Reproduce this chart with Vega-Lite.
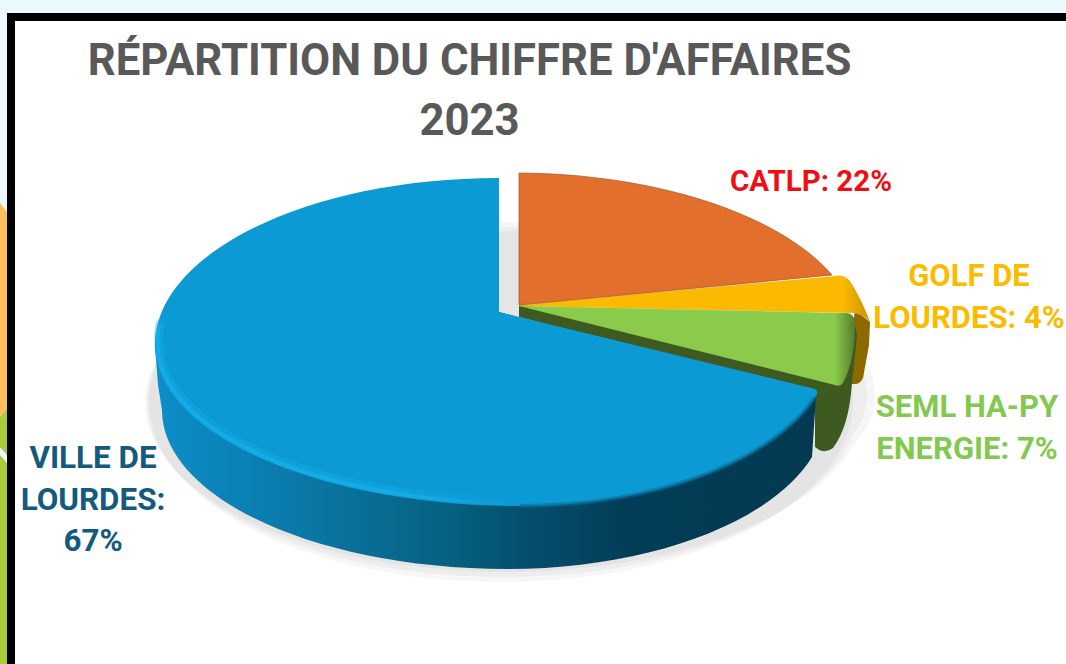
{
"$schema":"https://vega.github.io/schema/vega-lite/v6.json",
"description":"3D-style pie. Share values are in the rows; slice anchors and label positions come from scales on share. The perspective slice outlines are drawn as custom point shapes traced from the reference, since arc marks cannot be elliptical.",
"width":1066,"height":664,"padding":0,"autosize":{"type":"none"},
"background":"#ecf9ff",
"config":{"view":{"stroke":null}},
"title":{"text":["RÉPARTITION DU CHIFFRE D'AFFAIRES","2023"],"font":"Roboto","fontWeight":700,"fontSize":43.7,"color":"#595959","anchor":"middle","frame":"group","lineHeight":60,"dx":-63.5,"dy":179,"offset":0,"baseline":"alphabetic"},
"datasets":{"slices":[
{"segment":"GOLF DE LOURDES","share":4,"label":"GOLF DE\nLOURDES: 4%"},
{"segment":"SEML HA-PY ENERGIE","share":7,"label":"SEML HA-PY\nENERGIE: 7%"},
{"segment":"CATLP","share":22,"label":"CATLP: 22%"},
{"segment":"VILLE DE LOURDES","share":67,"label":"VILLE DE\nLOURDES:\n67%"}
]},
"data":{"name":"slices"},
"resolve":{"scale":{"x":"independent","y":"independent"}},
"layer":[
{"transform":[{"filter":"datum.share==67"}],
 "encoding":{"x":{"value":0},"y":{"value":0}},
 "layer":[
 {"mark":{"type":"point","filled":true,"size":4,"opacity":1,"fill":"#000000","shape":"M7,13 L1066,13 L1066,664 L7,664 Z"}},
 {"mark":{"type":"point","filled":true,"size":4,"opacity":1,"fill":"#ffffff","shape":"M15,21 L1066,21 L1066,664 L15,664 Z"}},
 {"mark":{"type":"point","filled":true,"size":4,"opacity":1,"fill":"#ffbe5c","shape":"M0,203 L7,212 L7,409 L0,417 Z"}},
 {"mark":{"type":"point","filled":true,"size":4,"opacity":1,"fill":"#a8cb38","shape":"M0,417 L7,409 L7,455 L0,447 Z M0,455 L7,463 L7,664 L0,664 Z"}}
 ]},
{"encoding":{
  "x":{"field":"share","type":"quantitative","axis":null,"scale":{"domain":[4,7,22,67],"range":[519,519,519,499]}},
  "y":{"field":"share","type":"quantitative","axis":null,"scale":{"domain":[4,7,22,67],"range":[305,305,305,312]}}},
 "layer":[
 {"transform":[{"filter":"datum.share==67"}],"mark":{"type":"point","filled":true,"size":4,"opacity":0.035,"fill":"#000000","shape":"M-354,90 A360 170 0 1 1 366,90 A360 170 0 1 1 -354,90 Z M226,83 A75 70 0 1 1 376,83 A75 70 0 1 1 226,83 Z"}},
 {"transform":[{"filter":"datum.share==67"}],"mark":{"type":"point","filled":true,"size":4,"opacity":0.035,"fill":"#000000","shape":"M-352,90 A356 175 0 1 1 360,90 A356 175 0 1 1 -352,90 Z M226,83 A71 66 0 1 1 368,83 A71 66 0 1 1 226,83 Z"}},
 {"transform":[{"filter":"datum.share==67"}],"mark":{"type":"point","filled":true,"size":4,"opacity":0.035,"fill":"#000000","shape":"M-350,90 A352 180 0 1 1 354,90 A352 180 0 1 1 -350,90 Z"}},
 {"transform":[{"filter":"datum.share==67"}],"mark":{"type":"point","filled":true,"size":4,"opacity":1,"fill":"#e5e5e5","shape":"M0,-80 L20,-82 L20,5 L0,0 Z"}},
 {"transform":[{"filter":"datum.share==4"}],"mark":{"type":"point","filled":true,"size":4,"opacity":1,"fill":"#8b6a00","shape":"M336,5 L351,17 L350,40 L344,73 Q341,79 336,79 L326,79 Z"}},
 {"transform":[{"filter":"datum.share==4"}],"mark":{"type":"point","filled":true,"size":4,"opacity":1,"fill":{"gradient":"linear","x1":0,"x2":1,"y1":0,"y2":0,"stops":[{"offset":0,"color":"#fbb900"},{"offset":0.92,"color":"#fbb900"},{"offset":1,"color":"#c99400"}]},"shape":"M0,0 L316,-29 Q324,-31 331,-24 Q343,-5 351,17 Q345,10 335,8 L0,1 Z"}},
 {"transform":[{"filter":"datum.share==7"}],"mark":{"type":"point","filled":true,"size":4,"opacity":1,"fill":"#3e5a20","shape":"M0,1 L0,12 L296,90 L296,142 Q305,150 314,143 Q330,122 333,78 L338,30 L336,20 Z"}},
 {"transform":[{"filter":"datum.share==7"}],"mark":{"type":"point","filled":true,"size":4,"opacity":1,"fill":{"gradient":"linear","x1":0,"x2":1,"y1":0,"y2":0,"stops":[{"offset":0,"color":"#8acb4b"},{"offset":0.94,"color":"#8acb4b"},{"offset":1,"color":"#567a2c"}]},"shape":"M0,1 L327,8 Q336,8 336,20 Q336,55 324,78 Q321,82 316,80 Z"}},
 {"transform":[{"filter":"datum.share==22"}],"mark":{"type":"point","filled":true,"size":4,"opacity":1,"fill":"#e26f2c","stroke":"#9a5a2a","strokeWidth":0.7,"shape":"M0,0 L0,-132 A345 166 0 0 1 313,-30 Z"}},
 {"transform":[{"filter":"datum.share==67"}],"mark":{"type":"point","filled":true,"size":4,"opacity":1,"fill":{"gradient":"linear","x1":0,"x2":1,"y1":0,"y2":0,"stops":[{"offset":0,"color":"#0c8ec8"},{"offset":0.22,"color":"#0a78a8"},{"offset":0.45,"color":"#06607f"},{"offset":0.58,"color":"#044c6b"},{"offset":0.72,"color":"#033c56"},{"offset":1,"color":"#033a52"}]},"shape":"M-344,33 L-341,73 L-337,98 A345 159 0 0 0 8,257 A319 159 0 0 0 313,145 L317,84 L0,0 Z"}},
 {"transform":[{"filter":"datum.share==67"}],"mark":{"type":"point","filled":true,"size":4,"opacity":1,"fill":"#0c9ad5","shape":"M0,0 L316,77 Q320,80 317,84 A312 161 0 0 1 21,194 A365 161 0 0 1 -344,33 A344 167 0 0 1 0,-134 Z"}},
 {"transform":[{"filter":"datum.share==67"}],"mark":{"type":"point","filled":false,"size":4,"opacity":0.35,"strokeWidth":9,"strokeCap":"round","stroke":{"gradient":"linear","x1":0,"x2":1,"y1":0,"y2":0,"stops":[{"offset":0,"color":"#15aeea"},{"offset":0.7,"color":"#15aeea"},{"offset":1,"color":"#0c9ad5"}]},"shape":"M-339,12 Q-341,22 -340,28 A361 158 0 0 0 21,189"}},
 {"transform":[{"filter":"datum.share==67"}],"mark":{"type":"point","filled":false,"size":4,"opacity":0.85,"strokeWidth":4,"strokeCap":"round","stroke":{"gradient":"linear","x1":0,"x2":1,"y1":0,"y2":0,"stops":[{"offset":0,"color":"#15aeea"},{"offset":0.7,"color":"#15aeea"},{"offset":1,"color":"#0c9ad5"}]},"shape":"M-340,15 Q-342,22 -341,29 A362 159 0 0 0 21,191"}},
 {"transform":[{"filter":"datum.share==67"}],"mark":{"type":"point","filled":false,"size":4,"opacity":0.6,"strokeWidth":4,"stroke":"#0a6c94","shape":"M316,85 A312 161 0 0 1 21,194"}}
 ]},
{"mark":{"type":"text","font":"Roboto","fontWeight":700,"align":"center","baseline":"alphabetic","lineBreak":"\n","lineHeight":41.5},
 "encoding":{
  "x":{"field":"share","type":"quantitative","axis":null,"scale":{"domain":[4,7,22,67],"range":[969,967,811,93]}},
  "y":{"field":"share","type":"quantitative","axis":null,"scale":{"domain":[4,7,22,67],"range":[286,417,191,468]}},
  "size":{"field":"share","type":"quantitative","legend":null,"scale":{"domain":[4,7,22,67],"range":[31,31,29.5,31.4]}},
  "text":{"field":"label","type":"nominal"},
  "color":{"field":"segment","type":"nominal","legend":null,"scale":{"domain":["GOLF DE LOURDES","SEML HA-PY ENERGIE","CATLP","VILLE DE LOURDES"],"range":["#fdbb00","#83c94f","#ee0f14","#135a7e"]}}}}
]}
